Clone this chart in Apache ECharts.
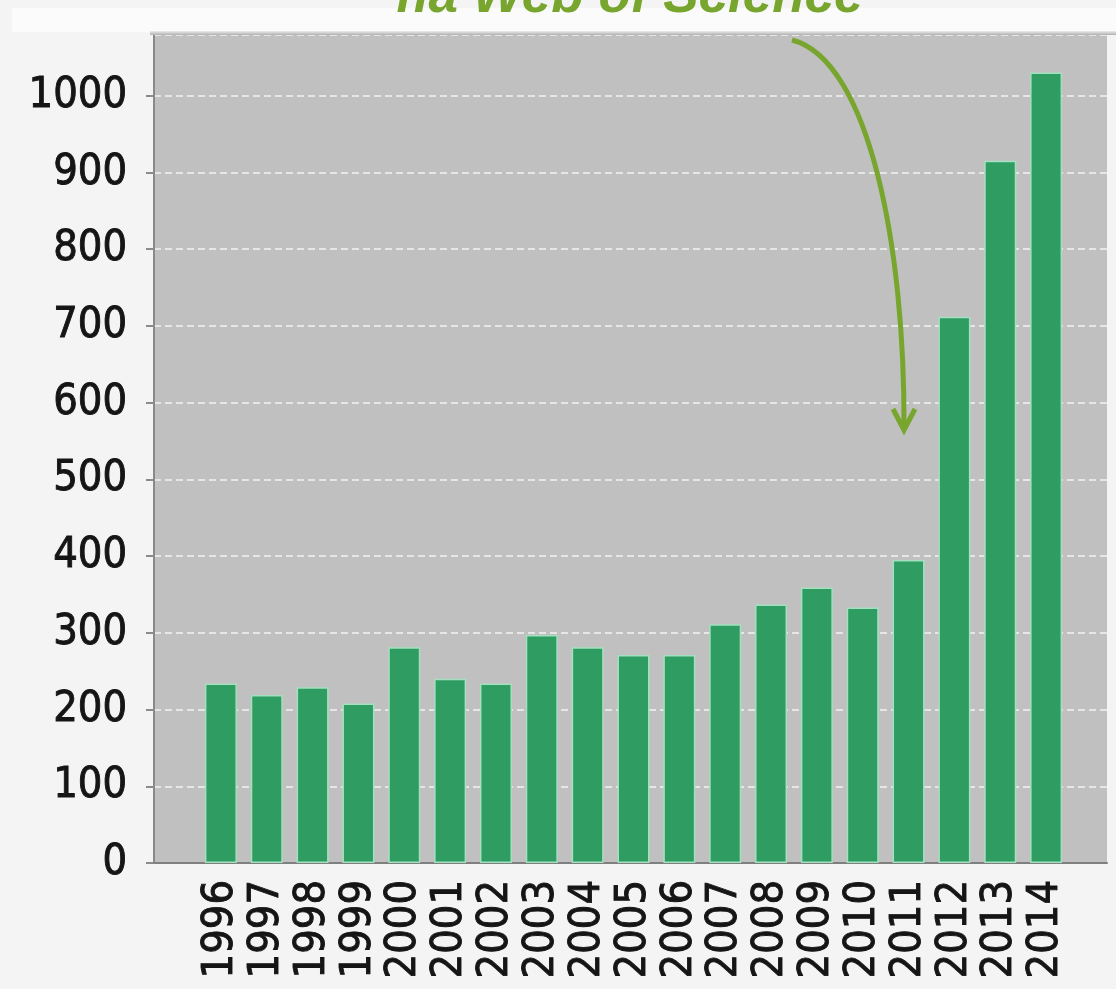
<!DOCTYPE html>
<html>
<head>
<meta charset="utf-8">
<script src="https://cdn.jsdelivr.net/npm/echarts@6/dist/echarts.min.js"></script>
<style>
html,body{margin:0;padding:0;background:#f4f4f4;}
#c{width:1116px;height:989px;}
</style>
</head>
<body>
<div id="c"></div>
<script>
const years = ['1996','1997','1998','1999','2000','2001','2002','2003','2004','2005','2006','2007','2008','2009','2010','2011','2012','2013','2014'];
const counts = [234,219,229,208,281,240,234,297,281,271,271,311,337,359,333,395,712,915,1030];
const yTicks = [0,100,200,300,400,500,600,700,800,900,1000];
const titleText = 'на Web of Science';

const chart = echarts.init(document.getElementById('c'), null, {renderer:'canvas'});
const labelFont = {fontFamily:'DejaVu Sans Condensed', fontSize:43, color:'#151515', textBorderColor:'#151515', textBorderWidth:0.9};
chart.setOption({
  backgroundColor:'#f4f4f4',
  animation:false,
  grid:[
    {left:154, right:9, top:35, bottom:126, show:true, backgroundColor:'#c0c0c0', borderWidth:0},
    {left:198, right:47, top:35, bottom:126}
  ],
  xAxis:[
    {gridIndex:0, type:'value', min:0, max:1, axisLabel:{show:false}, axisTick:{show:false}, splitLine:{show:false},
     axisLine:{show:true, lineStyle:{color:'#7f7f7f', width:2}}},
    {gridIndex:1, type:'category', data:years, axisLine:{show:false}, axisTick:{show:false},
     axisLabel:Object.assign({rotate:90, margin:17, interval:0}, labelFont)}
  ],
  yAxis:[
    {gridIndex:0, type:'value', min:0, max:1079, interval:100,
     axisLine:{show:true, lineStyle:{color:'#8a8a8a', width:2}},
     axisTick:{show:true, length:8, lineStyle:{color:'#8a8a8a', width:2}},
     axisLabel:Object.assign({margin:27, showMaxLabel:false, formatter:v => yTicks.includes(v) ? String(v) : ''}, labelFont),
     splitLine:{show:true, lineStyle:{color:'#e6e6e6', width:2, type:[7,4]}}},
    {gridIndex:1, type:'value', min:0, max:1079, show:false}
  ],
  series:[{
    type:'bar', xAxisIndex:1, yAxisIndex:1, data:counts, barWidth:32,
    itemStyle:{color:'#2f9c62', borderColor:'#a3e0bf', borderWidth:1.5}
  }],
  graphic:[
    {type:'rect', shape:{x:12,y:8,width:1104,height:24}, style:{fill:'#fbfbfb'}, z:1},
    {type:'rect', shape:{x:150,y:31,width:966,height:4},
      style:{fill:new echarts.graphic.LinearGradient(0,0,0,1,[{offset:0,color:'#ececec'},{offset:1,color:'#b0b0b0'}])}, z:1},
    {type:'text', x:630, y:24, style:{text:titleText, textAlign:'center', textVerticalAlign:'bottom',
      font:'italic bold 53px "Liberation Sans", Arial, sans-serif', fill:'#78a52d'}, z:20},
    {type:'bezierCurve', shape:{x1:792,y1:40,cpx1:870,cpy1:60,cpx2:905,cpy2:250,x2:904,y2:428},
      style:{stroke:'#78a52d', lineWidth:5, fill:null}, z:20},
    {type:'polyline', shape:{points:[[893,409],[904,430],[915,409]]},
      style:{stroke:'#78a52d', lineWidth:5, fill:null, lineJoin:'miter'}, z:20}
  ]
});
</script>
</body>
</html>
